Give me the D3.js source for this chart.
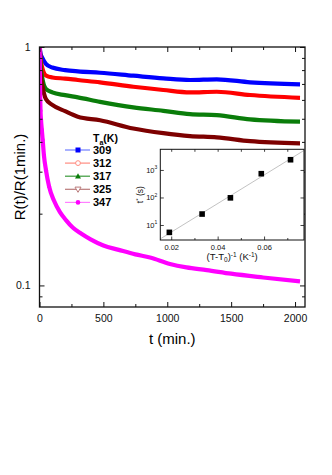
<!DOCTYPE html>
<html>
<head>
<meta charset="utf-8">
<script src="https://cdn.jsdelivr.net/npm/d3@7"></script>
<style>
  body { margin: 0; background: #fff; }
  text { font-family: "Liberation Sans", Arial, Helvetica, sans-serif; }
</style>
</head>
<body>
<script>
// data
var temps = ["309", "312", "317", "325", "347"];
var colors = ["#0000ff", "#ff0000", "#0a7d0a", "#7d0000", "#ff00ff"];
var legendLine = ["#6f7dff", "#ff8c80", "#3a9a3a", "#b97a7a", "#ff80ff"];
var markers = ["square", "circle-open", "triangle", "tri-down-open", "circle"];

var tBlue = [1, 10, 20, 50, 100, 200, 300, 474, 734, 969, 1178, 1387, 1648, 2039];
var vBlue = [1.0, 0.93, 0.905, 0.85, 0.82, 0.80, 0.79, 0.78, 0.758, 0.739, 0.727, 0.732, 0.711, 0.697];
var tRed = [1, 10, 20, 50, 100, 200, 300, 474, 734, 969, 1178, 1387, 1648, 2039];
var vRed = [1.0, 0.88, 0.825, 0.76, 0.745, 0.737, 0.727, 0.711, 0.681, 0.660, 0.645, 0.649, 0.629, 0.612];
var tGreen = [1, 10, 20, 50, 100, 200, 300, 474, 734, 969, 1178, 1387, 1648, 2039];
var vGreen = [1.0, 0.82, 0.75, 0.668, 0.645, 0.628, 0.615, 0.589, 0.558, 0.540, 0.523, 0.518, 0.497, 0.486];
var tBrown = [1, 4, 10, 20, 50, 100, 200, 300, 474, 734, 969, 1178, 1387, 1648, 2039];
var vBrown = [1.0, 0.85, 0.76, 0.70, 0.605, 0.572, 0.538, 0.51, 0.493, 0.455, 0.435, 0.423, 0.418, 0.403, 0.394];
var tMag = [1, 2, 3, 4, 6, 8, 12, 18, 25, 35, 51, 75, 113, 160, 207, 260, 325, 400, 500, 620, 750, 865, 1021, 1150, 1309, 1500, 1750, 2039];
var vMag = [1.0, 0.9, 0.8, 0.7, 0.6, 0.54, 0.494, 0.45, 0.407, 0.35, 0.304, 0.26, 0.227, 0.203, 0.188, 0.175, 0.165, 0.156, 0.147, 0.141, 0.135, 0.131, 0.123, 0.119, 0.116, 0.112, 0.108, 0.104];

// inset: t* versus 1/(T - T0)
var invT = [0.0192, 0.0333, 0.0455, 0.0588, 0.0714];
var tStar = [5.4, 25, 97, 730, 2350];

var xTicks = [0, 500, 1000, 1500, 2000];
var yTickLabels = ["0.1", "1"];

var series = [
  {t: tBlue, v: vBlue}, {t: tRed, v: vRed}, {t: tGreen, v: vGreen},
  {t: tBrown, v: vBrown}, {t: tMag, v: vMag}
];

var W = 332, H = 475;
var svg = d3.select("body").append("svg").attr("width", W).attr("height", H);

var L = 39.5, R = 305, T = 47, B = 307;
var x = d3.scaleLinear().domain([0, 2078]).range([L, R]);
var y = d3.scaleLog().domain([0.0812, 1]).range([B, T]);

// clip
svg.append("clipPath").attr("id", "clip").append("rect")
  .attr("x", L).attr("y", T).attr("width", R - L).attr("height", B - T);

var line = d3.line().x(function (d) { return x(d[0]); }).y(function (d) { return y(d[1]); })
  .curve(d3.curveMonotoneX);

var g = svg.append("g").attr("clip-path", "url(#clip)");
series.forEach(function (s, i) {
  var pts = s.t.map(function (t, k) { return [t, s.v[k]]; });
  g.append("path").datum(pts).attr("d", line)
    .attr("fill", "none").attr("stroke", colors[i]).attr("stroke-width", 4.2)
    .attr("stroke-linejoin", "round");
});
// early sparse markers of the fast 347 K curve
g.selectAll(".mdot").data(tMag.slice(0, 12)).enter().append("circle")
  .attr("cx", function (d) { return x(d); })
  .attr("cy", function (d, k) { return y(vMag[k]); })
  .attr("r", 2).attr("fill", colors[4]);

// axes
var minorY = [0.09, 0.2, 0.3, 0.4, 0.5, 0.6, 0.7, 0.8, 0.9];
var majorY = [0.1, 1];
var minorX = [250, 750, 1250, 1750];

svg.append("g").attr("transform", "translate(0," + B + ")")
  .call(d3.axisBottom(x).tickValues(xTicks).tickSize(-5).tickPadding(8).tickFormat(d3.format("d")))
  .call(function (a) { a.select(".domain").remove(); });
svg.append("g").attr("transform", "translate(0," + B + ")")
  .call(d3.axisBottom(x).tickValues(minorX).tickSize(-3).tickFormat(""))
  .call(function (a) { a.select(".domain").remove(); });
svg.append("g").attr("transform", "translate(0," + T + ")")
  .call(d3.axisTop(x).tickValues(xTicks).tickSize(-5).tickFormat(""))
  .call(function (a) { a.select(".domain").remove(); });
svg.append("g").attr("transform", "translate(0," + T + ")")
  .call(d3.axisTop(x).tickValues(minorX).tickSize(-3).tickFormat(""))
  .call(function (a) { a.select(".domain").remove(); });

svg.append("g").attr("transform", "translate(" + L + ",0)")
  .call(d3.axisLeft(y).tickValues(majorY).tickSize(-5).tickPadding(9)
    .tickFormat(function (d, k) { return yTickLabels[k]; }))
  .call(function (a) { a.select(".domain").remove(); });
svg.append("g").attr("transform", "translate(" + L + ",0)")
  .call(d3.axisLeft(y).tickValues(minorY).tickSize(-3).tickFormat(""))
  .call(function (a) { a.select(".domain").remove(); });
svg.append("g").attr("transform", "translate(" + R + ",0)")
  .call(d3.axisRight(y).tickValues(majorY).tickSize(-5).tickFormat(""))
  .call(function (a) { a.select(".domain").remove(); });
svg.append("g").attr("transform", "translate(" + R + ",0)")
  .call(d3.axisRight(y).tickValues(minorY).tickSize(-3).tickFormat(""))
  .call(function (a) { a.select(".domain").remove(); });

svg.selectAll(".tick text").attr("font-size", 10.5).attr("fill", "#111");
svg.selectAll(".tick line").attr("stroke", "#111").attr("stroke-width", 1);

svg.append("rect").attr("x", L).attr("y", T).attr("width", R - L).attr("height", B - T)
  .attr("fill", "none").attr("stroke", "#111").attr("stroke-width", 1.3);

svg.append("text").attr("x", (L + R) / 2).attr("y", 344).attr("text-anchor", "middle")
  .attr("font-size", 15).text("t (min.)");
svg.append("text").attr("transform", "translate(25," + ((T + B) / 2) + ") rotate(-90)")
  .attr("text-anchor", "middle").attr("font-size", 15).text("R(t)/R(1min.)");

// legend
var lg = svg.append("g");
var lt = lg.append("text").attr("x", 93).attr("y", 142).attr("font-size", 10.5).attr("font-weight", "bold");
lt.append("tspan").text("T");
lt.append("tspan").attr("font-size", 7).attr("dy", 2.5).text("a");
lt.append("tspan").attr("dy", -2.5).text("(K)");
temps.forEach(function (tk, i) {
  var yy = 150 + i * 13.1;
  lg.append("line").attr("x1", 65).attr("x2", 90).attr("y1", yy).attr("y2", yy)
    .attr("stroke", legendLine[i]).attr("stroke-width", 1.2);
  var mx = 78, c = colors[i];
  if (markers[i] === "square") {
    lg.append("rect").attr("x", mx - 2.5).attr("y", yy - 2.5).attr("width", 5).attr("height", 5).attr("fill", c);
  } else if (markers[i] === "circle-open") {
    lg.append("circle").attr("cx", mx).attr("cy", yy).attr("r", 2.4).attr("fill", "#fff").attr("stroke", legendLine[i]).attr("stroke-width", 1);
  } else if (markers[i] === "triangle") {
    lg.append("path").attr("d", "M" + mx + "," + (yy - 3) + "L" + (mx + 3) + "," + (yy + 2.2) + "L" + (mx - 3) + "," + (yy + 2.2) + "Z").attr("fill", c);
  } else if (markers[i] === "tri-down-open") {
    lg.append("path").attr("d", "M" + mx + "," + (yy + 3) + "L" + (mx + 3) + "," + (yy - 2.2) + "L" + (mx - 3) + "," + (yy - 2.2) + "Z")
      .attr("fill", "#fff").attr("stroke", legendLine[i]).attr("stroke-width", 1);
  } else {
    lg.append("circle").attr("cx", mx).attr("cy", yy).attr("r", 2.3).attr("fill", c);
  }
  lg.append("text").attr("x", 93).attr("y", yy + 4).attr("font-size", 11).attr("font-weight", "bold").text(tk);
});

// inset
var iL = 160.3, iR = 304, iT = 149.3, iB = 240;
var ix = d3.scaleLinear().domain([0.0153, 0.0772]).range([iL, iR]);
var iy = d3.scaleLog().domain([10 ** 0.455, 10 ** 3.75]).range([iB, iT]);

svg.append("rect").attr("x", iL).attr("y", iT).attr("width", iR - iL).attr("height", iB - iT)
  .attr("fill", "#fff");

// least-squares fit in log space
var lx = invT, ly = tStar.map(function (v) { return Math.log10(v); });
var mxv = d3.mean(lx), myv = d3.mean(ly);
var slope = d3.sum(lx.map(function (v, k) { return (v - mxv) * (ly[k] - myv); })) /
  d3.sum(lx.map(function (v) { return (v - mxv) * (v - mxv); }));
var icpt = myv - slope * mxv;
var ends = ix.domain();
svg.append("clipPath").attr("id", "iclip").append("rect")
  .attr("x", iL).attr("y", iT).attr("width", iR - iL).attr("height", iB - iT);
svg.append("line").attr("clip-path", "url(#iclip)")
  .attr("x1", ix(ends[0])).attr("y1", iy(10 ** (icpt + slope * ends[0])))
  .attr("x2", ix(ends[1])).attr("y2", iy(10 ** (icpt + slope * ends[1])))
  .attr("stroke", "#bbb").attr("stroke-width", 0.9);

svg.selectAll(".ipt").data(invT).enter().append("rect")
  .attr("x", function (d) { return ix(d) - 2.8; })
  .attr("y", function (d, k) { return iy(tStar[k]) - 2.8; })
  .attr("width", 5.6).attr("height", 5.6).attr("fill", "#000");

var ixMajor = [0.02, 0.04, 0.06];
var ixMinor = [0.03, 0.05, 0.07];
var iyMajor = [10, 100, 1000];
function noDomain(a) { a.select(".domain").remove(); }
var ig = svg.append("g").attr("class", "inset");
ig.append("g").attr("transform", "translate(0," + iB + ")")
  .call(d3.axisBottom(ix).tickValues(ixMajor).tickSize(-3.5).tickPadding(5).tickFormat(d3.format(".2f"))).call(noDomain);
ig.append("g").attr("transform", "translate(0," + iB + ")")
  .call(d3.axisBottom(ix).tickValues(ixMinor).tickSize(-2).tickFormat("")).call(noDomain);
ig.append("g").attr("transform", "translate(0," + iT + ")")
  .call(d3.axisTop(ix).tickValues(ixMajor.concat(ixMinor)).tickSize(-2.5).tickFormat("")).call(noDomain);
ig.append("g").attr("transform", "translate(" + iL + ",0)")
  .call(d3.axisLeft(iy).tickValues(iyMajor).tickSize(-3.5).tickPadding(4).tickFormat("")).call(noDomain);
ig.append("g").attr("transform", "translate(" + iR + ",0)")
  .call(d3.axisRight(iy).tickValues(iyMajor).tickSize(-3.5).tickFormat("")).call(noDomain);
ig.selectAll(".tick text").attr("font-size", 7.5).attr("fill", "#111");
ig.selectAll(".tick line").attr("stroke", "#111").attr("stroke-width", 0.8);

iyMajor.forEach(function (v) {
  var tx = ig.append("text").attr("x", iL - 3).attr("y", iy(v) + 3).attr("text-anchor", "end")
    .attr("font-size", 7.5).attr("fill", "#111");
  tx.append("tspan").text("10");
  tx.append("tspan").attr("font-size", 5).attr("dy", -3.5).text(String(Math.round(Math.log10(v))));
});

svg.append("rect").attr("x", iL).attr("y", iT).attr("width", iR - iL).attr("height", iB - iT)
  .attr("fill", "none").attr("stroke", "#111").attr("stroke-width", 1);

var xl = svg.append("text").attr("x", (iL + iR) / 2).attr("y", 260).attr("text-anchor", "middle")
  .attr("font-size", 9.5).attr("fill", "#111");
xl.append("tspan").text("(T-T");
xl.append("tspan").attr("font-size", 6.5).attr("dy", 2).text("0");
xl.append("tspan").attr("dy", -2).text(")");
xl.append("tspan").attr("font-size", 6.5).attr("dy", -3.5).text("-1");
xl.append("tspan").attr("dy", 3.5).text(" (K");
xl.append("tspan").attr("font-size", 6.5).attr("dy", -3.5).text("-1");
xl.append("tspan").attr("dy", 3.5).text(")");

var yl = svg.append("text").attr("transform", "translate(143," + ((iT + iB) / 2) + ") rotate(-90)")
  .attr("text-anchor", "middle").attr("font-size", 8.5).attr("fill", "#111");
yl.append("tspan").text("t");
yl.append("tspan").attr("font-size", 6).attr("dy", -3).text("*");
yl.append("tspan").attr("dy", 3).text(" (s)");
</script>
</body>
</html>
